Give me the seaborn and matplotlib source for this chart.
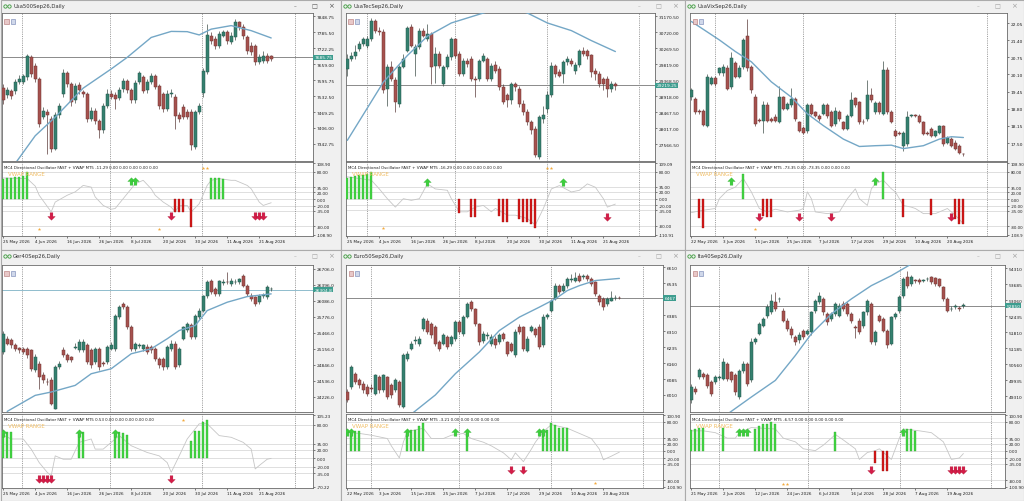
import matplotlib
matplotlib.use("Agg")
import matplotlib.pyplot as plt
import seaborn as sns
from matplotlib.patches import Rectangle
import matplotlib.transforms as mtrans

sns.set_theme(style="white")
plt.rcParams['font.family'] = ['DejaVu Sans']

# ---------------- DATA ----------------
US_DATES = ["25 May 2026", "4 Jun 2026", "16 Jun 2026", "26 Jun 2026", "8 Jul 2026",
            "20 Jul 2026", "30 Jul 2026", "11 Aug 2026", "21 Aug 2026"]
VIX_DATES = ["22 May 2026", "3 Jun 2026", "15 Jun 2026", "25 Jun 2026", "7 Jul 2026",
             "17 Jul 2026", "29 Jul 2026", "10 Aug 2026", "20 Aug 2026"]
ITA_DATES = ["21 May 2026", "2 Jun 2026", "12 Jun 2026", "24 Jun 2026", "6 Jul 2026",
             "16 Jul 2026", "28 Jul 2026", "7 Aug 2026", "19 Aug 2026"]
DATE_IDX = [0, 8, 16, 24, 32, 40, 48, 56, 64]

# --- Usa500 ---
P1_OPEN = [7564,7535,7551,7551,7588,7590,7607,7686,7653,7601,7450,7469,7440,7324,7456,7541,7624,7581,7515,7577,7548,7541,7443,7475,7432,7396,7493,7541,7535,7524,7561,7594,7555,7515,7588,7607,7555,7588,7614,7571,7541,7482,7541,7528,7456,7489,7469,7469,7330,7469,7545,7627,7772,7759,7730,7772,7785,7746,7765,7825,7805,7765,7733,7733,7667,7673,7693,7690]
P1_CLOSE = [7515,7555,7532,7588,7601,7611,7690,7620,7601,7423,7472,7456,7324,7456,7495,7624,7581,7508,7574,7555,7541,7443,7475,7432,7396,7495,7541,7528,7522,7555,7594,7555,7515,7585,7624,7551,7588,7614,7568,7495,7482,7541,7543,7453,7443,7449,7449,7337,7469,7495,7630,7775,7752,7730,7779,7785,7752,7769,7825,7805,7772,7713,7706,7667,7686,7693,7673,7680]
P1_HIGH = [7580,7570,7560,7600,7618,7622,7700,7695,7665,7610,7490,7480,7452,7470,7505,7640,7632,7590,7585,7590,7555,7550,7490,7485,7440,7505,7560,7556,7548,7570,7605,7602,7565,7595,7632,7615,7600,7625,7622,7580,7550,7555,7560,7540,7470,7500,7480,7480,7478,7505,7645,7820,7785,7770,7790,7795,7795,7785,7838,7832,7818,7775,7745,7740,7700,7710,7702,7695]
P1_LOW = [7500,7525,7520,7540,7580,7582,7598,7610,7590,7410,7440,7304,7310,7318,7445,7530,7570,7495,7505,7540,7530,7430,7432,7420,7368,7388,7485,7520,7480,7515,7550,7545,7505,7505,7580,7545,7545,7580,7560,7482,7470,7474,7530,7400,7430,7440,7440,7320,7322,7460,7530,7620,7740,7718,7722,7765,7740,7738,7755,7795,7760,7700,7695,7655,7660,7662,7662,7672]
P1_MA_IDX = [3,8,13,20,27,31,37,42,46,49,52,57,62,67]
P1_MA_VAL = [7265,7375,7449,7564,7640,7686,7765,7789,7788,7775,7798,7812,7792,7763]
P1_OSC_IDX = [0,6,8,9,12,13,16,18,20,22,23,25,27,28,30,32,33,35,37,38,40,42,43,44,46,47,49,51,52,54,57,58,61,62,64,65,67]
P1_OSC_VAL = [62,60,38,11,-38,-9,11,21,40,35,6,-19,-30,-28,1,30,45,55,30,11,-9,-24,-38,-19,-19,-38,-14,40,55,60,55,55,40,30,-9,-19,-11]
P1_HIST_IDX = [0,1,2,3,4,5,6,43,44,45,47,52,53,54,55]
P1_HIST_VAL = [58,61,63,65,66,68,79,-38,-38,-38,-83,62,62,61,60]
P1_UP_IDX, P1_UP_VAL = [32,33], [52,52]
P1_DN_IDX, P1_DN_VAL = [12,42,63,64,65], [-50,-50,-50,-50,-50]
P1_DOT_IDX, P1_DOT_VAL = [9,39,50,51], [-88,-88,92,92]
P1_YTICKS = [7848.75,7785.50,7722.25,7659.00,7595.75,7532.50,7469.25,7406.00,7342.75]
P1_YLABELS = ["7848.75","7785.50","7722.25","7659.00","7595.75","7532.50","7469.25","7406.00","7342.75"]

# --- UsaTec ---
P2_OPEN = [29688,29969,30063,30251,30392,30345,30532,31048,30767,30720,29125,29735,29360,28702,29735,30204,30861,30110,30298,30767,30532,30673,29782,30110,29266,29735,30016,30532,30110,29547,29922,29969,29406,29406,29922,29969,29406,29800,29687,29172,28937,28796,29266,29125,28702,28467,28186,27998,27200,28280,28561,28937,29781,29593,29547,29875,29922,29640,29800,30204,30204,30081,29640,29547,29406,29406,29125,29266]
P2_CLOSE = [29969,30063,30157,30392,30532,30532,31048,30767,30720,29078,29735,29406,28749,29735,29969,30832,30345,30298,30767,30626,30673,29735,30110,29782,29735,30016,30532,30063,29547,29922,29828,29406,29360,29922,30063,29406,29782,29640,29172,28749,28796,29266,29172,28702,28467,28186,27951,27248,28327,28374,28937,29781,29547,29500,29875,29969,29828,29800,30204,30110,30063,29593,29547,29266,29266,29125,29266,29200]
P2_HIGH = [30100,30150,30350,30480,30600,30620,31110,31090,30880,30800,29830,29900,29450,29800,30100,30900,30950,30380,30850,30830,30954,30720,30300,30200,29800,30100,30580,30560,30200,30000,30000,30050,29480,29980,30130,30020,29850,29900,29760,29250,29000,29320,29330,29200,28800,28550,28250,28080,28400,28650,29050,29880,29820,29680,29950,30040,29990,29880,30260,30300,30250,30120,29720,29620,29450,29500,29350,29330]
P2_LOW = [29500,29900,29980,30200,30330,30280,30480,30700,30650,29020,28650,29340,28467,28620,29700,30150,30300,29500,30250,30580,30480,29250,29280,29700,29200,29680,29950,30000,29500,29500,29750,29350,28890,29350,29870,29350,29350,29580,29100,28700,28600,28700,29050,28600,28380,28100,27850,27200,27150,28150,28450,28900,29450,29450,29300,29800,29760,29550,29750,30050,29980,29450,29380,29180,29100,28900,29030,29100]
P2_MA_IDX = [0,9,15,20,26,34,40,45,50,56,61,67]
P2_MA_VAL = [27670,29312,30063,30607,30983,31264,31450,31264,30983,30767,30485,30176]
P2_OSC_IDX = [0,6,8,10,12,14,16,18,20,22,25,26,28,30,32,34,36,37,40,42,45,47,49,50,51,53,56,58,60,62,64,65,67]
P2_OSC_VAL = [65,55,29,0,-25,0,-5,0,44,29,25,0,-39,-39,-25,-20,-39,-29,-49,-49,-59,-78,-29,0,29,39,20,25,44,34,0,-25,-16]
P2_HIST_IDX = [0,1,2,3,4,5,6,28,31,32,38,39,40,43,44,45,46,47]
P2_HIST_VAL = [61,64,67,69,71,74,80,-44,-55,-55,-50,-68,-68,-60,-68,-70,-75,-88]
P2_UP_IDX, P2_UP_VAL = [20,54], [51,51]
P2_DN_IDX, P2_DN_VAL = [65], [-54]
P2_DOT_IDX, P2_DOT_VAL = [9,50,51], [-88,91,91]
P2_YTICKS = [31170.50,30720.00,30269.50,29819.00,29368.50,28918.00,28467.50,28017.00,27566.50]
P2_YLABELS = ["31170.50","30720.00","30269.50","29819.00","29368.50","28918.00","28467.50","28017.00","27566.50"]

# --- UsaVix ---
P3_OPEN = [19.24,19.18,18.73,18.73,18.16,19.75,19.97,20.14,20.14,20.36,19.63,20.52,20.01,20.39,21.54,20.39,19.24,18.38,18.35,18.95,18.41,18.48,18.29,19.24,18.80,18.93,19.18,18.29,18.06,17.97,18.93,18.67,18.54,18.61,18.93,18.67,18.22,18.67,18.29,18.03,18.54,19.21,19.05,18.31,18.41,19.31,18.67,19.03,18.61,20.27,18.67,17.97,17.88,17.40,17.46,18.52,18.55,18.54,18.29,17.88,18.03,17.78,17.90,18.16,17.52,17.65,17.52,17.40,17.10]
P3_CLOSE = [19.50,18.67,18.67,18.19,20.01,19.97,19.75,20.33,20.39,19.56,20.71,20.01,20.33,21.41,20.33,19.50,18.22,18.33,18.95,18.35,18.35,18.35,19.24,18.80,18.99,19.18,18.41,17.97,17.90,18.93,18.61,18.54,18.41,18.93,18.54,18.16,18.73,18.41,18.03,18.54,19.12,18.93,18.29,18.28,19.31,19.12,19.03,18.67,20.27,18.67,18.29,17.78,17.85,17.90,18.48,18.55,18.53,18.29,17.84,17.86,17.78,17.97,18.16,17.46,17.71,17.40,17.27,17.14,17.07]
P3_HIGH = [19.60,19.25,18.80,18.80,20.10,20.05,20.05,20.40,20.50,20.45,20.95,20.60,20.45,21.50,22.22,20.45,19.35,18.45,19.10,19.05,18.50,18.60,19.65,19.30,19.05,19.60,19.25,18.35,18.15,19.00,19.00,18.72,18.62,19.00,19.00,18.75,18.85,18.75,18.35,18.60,19.45,19.25,19.10,18.40,19.90,19.60,19.10,19.10,20.61,20.40,18.75,18.05,17.95,17.95,18.70,18.62,18.60,18.60,18.35,17.95,18.10,18.00,18.20,18.20,17.78,17.72,17.60,17.45,17.12]
P3_LOW = [19.15,18.60,18.60,18.15,18.10,19.70,19.68,20.08,20.05,19.50,19.55,19.95,19.95,20.30,20.25,19.40,18.15,18.28,17.90,18.30,18.30,18.28,18.25,18.75,18.75,18.85,18.35,17.92,17.85,17.90,18.55,18.48,18.35,18.55,18.45,18.10,18.15,18.35,17.98,17.98,18.48,18.85,18.22,18.22,18.35,19.05,18.60,18.60,18.55,18.60,18.25,17.72,17.80,17.20,17.40,18.48,18.48,18.25,17.80,17.80,17.72,17.72,17.85,17.40,17.45,17.35,17.22,17.08,17.00]
P3_MA_IDX = [0,7,11,15,20,25,29,33,38,42,46,50,53,58,62,65,68]
P3_MA_VAL = [22.11,21.41,20.97,20.58,19.82,19.24,18.61,18.16,17.65,17.37,17.40,17.42,17.29,17.40,17.65,17.74,17.71]
P3_OSC_IDX = [0,3,6,7,9,11,13,15,17,19,21,24,27,28,29,30,31,34,37,39,41,42,44,45,46,48,50,51,53,55,56,58,61,62,64,66,68]
P3_OSC_VAL = [-40,-33,-28,1,25,35,60,21,-28,-38,-30,-38,-33,-28,21,1,-38,-43,-38,1,30,1,-19,30,45,55,30,21,-19,-24,-28,-43,-43,-38,-28,-48,-73]
P3_HIST_IDX = [2,3,13,18,19,20,48,53,60,66,67,68]
P3_HIST_VAL = [-55,-85,73,-50,-53,-53,80,-53,-46,-58,-73,-73]
P3_UP_IDX, P3_UP_VAL = [10,46], [52,52]
P3_DN_IDX, P3_DN_VAL = [17,27,35,65], [-53,-53,-53,-53]
P3_DOT_IDX, P3_DOT_VAL = [16], [-87]
P3_YTICKS = [22.05,21.40,20.75,20.10,19.45,18.80,18.15,17.50]
P3_YLABELS = ["22.05","21.40","20.75","20.10","19.45","18.80","18.15","17.50"]

# --- Ger40 ---
P4_OPEN = [25091,25349,25317,25220,25169,25156,25156,25124,24736,24865,24639,24520,24542,23993,24800,25124,25027,24994,25180,25124,25124,25220,25124,24897,25156,24870,24897,25156,25156,25769,26028,25963,25575,25156,25215,25156,25188,25188,25156,24962,24962,24800,25156,25253,24833,25349,25511,25608,25382,25770,25899,26189,26480,26319,26222,26440,26450,26416,26455,26448,26577,26383,26189,26157,26060,26185,26157,26315]
P4_CLOSE = [25446,25253,25220,25156,25124,25091,25027,24768,24994,24607,24542,24505,24090,24800,24865,25027,24929,24929,25195,25285,25285,24897,24833,25156,24800,24860,25188,25220,25802,25963,25963,25575,25156,25253,25225,25220,25091,25124,24962,24833,24800,25188,25253,24800,25156,25575,25640,25382,25802,25899,26189,26448,26254,26222,26480,26450,26445,26480,26462,26512,26383,26222,26125,26028,26189,26192,26351,26320]
P4_HIGH = [25500,25400,25360,25270,25200,25200,25200,25160,25050,24920,24700,24580,24600,24850,24920,25200,25080,25010,25260,25349,25349,25270,25180,25200,25190,24920,25220,25280,25830,26000,26060,26000,25610,25290,25270,25250,25240,25230,25190,25000,24990,25220,25320,25300,25200,25600,25680,25660,25830,25940,26210,26490,26520,26360,26500,26520,26654,26540,26520,26540,26610,26420,26230,26190,26220,26240,26400,26360]
P4_LOW = [25050,25220,25180,25110,25080,25050,24980,24720,24700,24380,24500,24460,24060,23980,24770,25000,24890,24890,25150,25090,25090,24860,24780,24860,24750,24820,24860,25130,25120,25740,25920,25540,25120,25120,25180,25120,25060,25080,24920,24780,24750,24760,25120,24770,24800,25320,25480,25350,25350,25740,25870,26150,26220,26190,26190,26400,26410,26380,26420,26420,26350,26190,26090,25990,26020,26150,26120,26280]
P4_MA_IDX = [1,8,12,18,22,27,32,37,41,44,48,51,56,61,67]
P4_MA_VAL = [23940,24251,24316,24445,24671,24768,25059,25156,25350,25511,25608,25898,26060,26170,26222]
P4_OSC_IDX = [0,2,5,7,9,11,12,13,15,17,19,22,23,25,27,29,32,36,39,41,42,44,46,48,49,51,54,57,60,62,63,64,66,67]
P4_OSC_VAL = [55,46,46,22,-10,-33,-41,6,-2,-2,38,46,22,22,38,54,30,14,6,-10,-33,6,46,70,82,82,54,50,38,22,-25,-17,-2,0]
P4_HIST_IDX = [0,1,2,19,20,28,29,30,31,47,48,49,50,51]
P4_HIST_VAL = [63,63,63,63,63,63,63,60,55,42,66,66,87,90]
P4_UP_IDX, P4_UP_VAL = [0,19,28], [60,60,60]
P4_DN_IDX, P4_DN_VAL = [9,10,11,12,42], [-49,-49,-49,-49,-49]
P4_DOT_IDX, P4_DOT_VAL = [45], [91]
P4_YTICKS = [26706.0,26396.0,26086.0,25776.0,25466.0,25156.0,24846.0,24536.0,24226.0]
P4_YLABELS = ["26706.0","26396.0","26086.0","25776.0","25466.0","25156.0","24846.0","24536.0","24226.0"]

# --- Euro50 ---
P5_OPEN = [6024,6048,6110,6079,6063,6048,6042,6016,6094,6032,6094,6055,6032,6071,5954,6180,6227,6264,6251,6321,6360,6344,6329,6258,6251,6282,6251,6274,6355,6297,6376,6446,6415,6344,6266,6288,6251,6274,6258,6297,6258,6251,6196,6329,6329,6219,6313,6321,6329,6243,6376,6407,6462,6524,6501,6524,6550,6548,6571,6565,6571,6555,6540,6477,6462,6438,6450,6465,6468]
P5_CLOSE = [5985,6141,6071,6055,6032,6016,6039,6102,6032,6102,6001,6008,6079,5962,6196,6204,6251,6268,6274,6368,6305,6290,6251,6227,6290,6235,6282,6355,6305,6376,6438,6415,6344,6258,6297,6292,6282,6243,6290,6274,6204,6219,6305,6305,6227,6274,6329,6290,6235,6376,6384,6454,6524,6493,6524,6555,6553,6559,6548,6568,6555,6532,6485,6446,6423,6462,6465,6467,6467]
P5_HIGH = [6040,6150,6120,6090,6075,6062,6060,6110,6105,6110,6100,6065,6090,6080,6205,6215,6262,6285,6285,6376,6370,6355,6340,6270,6300,6292,6290,6362,6362,6385,6446,6458,6420,6350,6310,6305,6295,6285,6300,6305,6265,6260,6320,6345,6335,6285,6340,6330,6345,6391,6395,6462,6535,6530,6535,6565,6580,6587,6582,6577,6580,6565,6548,6485,6470,6472,6501,6478,6475]
P5_LOW = [5975,6040,6060,6045,6020,6005,6025,6010,6020,6025,5990,5995,6025,5954,5950,6170,6220,6250,6240,6310,6296,6280,6240,6215,6245,6225,6240,6265,6295,6285,6370,6405,6335,6245,6255,6275,6240,6232,6250,6262,6195,6210,6190,6295,6215,6210,6305,6282,6225,6235,6368,6400,6455,6485,6495,6515,6540,6540,6540,6555,6545,6520,6475,6435,6410,6430,6450,6455,6460]
P5_MA_IDX = [16,22,27,33,38,43,48,52,55,58,62,65,68]
P5_MA_VAL = [5920,6010,6110,6212,6313,6376,6423,6462,6501,6524,6548,6553,6558]
P5_OSC_IDX = [0,3,6,10,11,13,14,15,19,21,24,26,29,31,34,36,39,41,42,44,46,47,49,51,55,58,61,63,64,66,68]
P5_OSC_VAL = [50,48,43,34,14,-19,24,53,62,34,34,43,48,34,24,14,-5,-24,-5,-29,5,24,53,72,62,48,34,5,-24,-14,-3]
P5_HIST_IDX = [1,2,3,15,16,17,18,19,30,49,50,51,52,53,54,55]
P5_HIST_VAL = [55,55,55,55,58,58,67,77,55,48,58,77,72,64,64,64]
P5_UP_IDX, P5_UP_VAL = [0,1,15,27,30,48,49], [52,52,52,52,52,52,52]
P5_DN_IDX, P5_DN_VAL = [41,44], [-53,-53]
P5_DOT_IDX, P5_DOT_VAL = [62], [-87]
P5_YTICKS = [6610,6535,6385,6310,6235,6160,6085,6010]
P5_YLABELS = ["6610","6535","6385","6310","6235","6160","6085","6010"]

# --- Ita40 ---
P6_OPEN = [49141,49597,50052,50183,50143,49857,49857,50030,49987,50573,50248,50117,49271,50274,50573,49922,51419,51745,52070,52460,52591,52982,53100,52656,52265,51940,51615,51485,51875,51745,51810,52656,52982,53112,52526,52330,52526,52461,52917,52917,52526,52020,52265,52070,52591,52917,51419,52460,52330,51875,51354,52395,52656,53242,53958,53698,53840,53867,53815,53880,53958,53919,53893,53568,53112,52710,52815,52760,52840]
P6_CLOSE = [49662,49467,50313,50052,49701,49402,50052,50065,50638,49987,49922,49467,50274,50573,49792,51419,51549,52135,52330,52786,53047,52721,53125,52265,51940,51680,51419,51680,51615,51875,52591,53047,53242,52591,52200,52526,52917,52852,52721,52526,52265,51990,51810,52591,53047,51419,51810,52265,51875,51289,52395,52526,53177,53893,53633,53958,53815,53763,53840,53905,53763,53698,53633,53112,52656,52730,52840,52735,52865]
P6_HIGH = [49800,49700,50420,50250,50200,49950,50150,50150,50780,50650,50300,50200,50350,50700,50650,51600,51620,52200,52400,52900,53300,53370,53200,52750,52350,52050,51700,51800,51950,51950,52650,53120,53398,53200,52600,52600,52980,52950,53050,52990,52600,52100,52350,52650,53120,52990,51900,52520,52400,51950,52450,52600,53250,53960,54218,54050,53900,53930,53900,53960,54020,53980,53950,53620,53180,52840,52900,52840,52950]
P6_LOW = [49050,49400,49980,49980,49640,49330,49800,49950,49920,49900,49850,49350,49200,50200,49700,49850,51350,51680,52000,52380,52520,52650,53000,52200,51860,51600,51300,51400,51550,51680,51700,52560,52900,52500,52100,52250,52450,52400,52650,52450,52180,51600,51720,51980,52500,51350,51300,52200,51800,51200,51300,52320,52580,53150,53550,53620,53750,53700,53760,53800,53700,53620,53560,53050,52600,52620,52700,52650,52760]
P6_MA_IDX = [9,15,21,26,30,35,40,45,50,55,60]
P6_MA_VAL = [48600,49271,49922,50898,51745,52526,53112,53633,54023,54480,54800]
P6_OSC_IDX = [0,3,6,9,11,12,15,21,23,26,28,31,33,35,36,38,41,42,44,46,47,50,52,53,57,60,63,65,67,68]
P6_OSC_VAL = [55,55,50,35,35,50,64,60,35,25,6,1,16,35,45,30,6,-23,-4,1,6,-23,35,60,55,50,25,-23,-19,-7]
P6_HIST_IDX = [0,1,2,3,8,16,17,18,19,20,21,36,46,48,49,54,55,56]
P6_HIST_VAL = [57,60,64,64,64,60,69,74,74,79,74,52,-33,-55,-55,60,60,55]
P6_UP_IDX, P6_UP_VAL = [12,13,14,53], [53,53,53,53]
P6_DN_IDX, P6_DN_VAL = [45,65,66,67,68], [-53,-53,-53,-53,-53]
P6_DOT_IDX, P6_DOT_VAL = [23,24], [-89,-89]
P6_YTICKS = [54310,53685,53060,52435,51810,51185,50560,49935,49310]
P6_YLABELS = ["54310","53685","53060","52435","51810","51185","50560","49935","49310"]

OSC_LEVELS = [80, 35, 20, 0, -20, -35, -80]

# ---------------- DRAWING ----------------
WPX, HPX = 1024, 502
fig = plt.figure(figsize=(WPX / 100, HPX / 100), dpi=100)
fig.patch.set_facecolor('#f0f0f0')

bg = fig.add_axes([0, 0, 1, 1])
bg.set_xlim(0, WPX)
bg.set_ylim(HPX, 0)
bg.axis('off')
bg.set_zorder(-5)


def fax(x, y, w, h):
    return fig.add_axes([x / WPX, 1 - (y + h) / HPX, w / WPX, h / HPX])


UP_ARROW = [(0, 1), (-1.0, 0.0), (-0.38, 0.0), (-0.38, -1), (0.38, -1), (0.38, 0.0), (1.0, 0.0), (0, 1)]
DN_ARROW = [(x, -y) for x, y in UP_ARROW]

BULL, BEAR = '#34806f', '#a6514e'
BULL_E, BEAR_E = '#25594e', '#6f3634'


def style_axes(ax):
    ax.set_facecolor('white')
    for s in ax.spines.values():
        s.set_color('#6a6a6a')
        s.set_linewidth(0.6)
        s.set_visible(True)


def draw_panel(p):
    ox, oy, ww, hh = p['win']
    bg.add_patch(Rectangle((ox + 0.5, oy + 0.5), ww - 1, hh - 1, fc='#f0f0f0', ec='#ababab', lw=0.8))
    bg.text(ox + 13, oy + 6.5, p['title'], fontsize=3.8, color='#303030', va='center', ha='left')
    bg.plot([ox + 5, ox + 8.5], [oy + 6.5, oy + 6.5], ls='none', marker='o', ms=2.4,
            mfc='none', mec='#3c9a3c', mew=0.6)
    cc = '#555555' if p['active'] else '#a0a0a0'
    bg.text(ox + ww - 46, oy + 6.5, '\u2013', fontsize=4, color=cc, va='center', ha='center')
    bg.text(ox + ww - 27, oy + 6.5, '\u25a1', fontsize=4.5, color=cc, va='center', ha='center')
    bg.text(ox + ww - 10, oy + 6.5, '\u00d7', fontsize=5, color=cc, va='center', ha='center')

    # ---- main chart ----
    mx, my, mw, mh = p['main']
    ax = fax(mx, my, mw, mh)
    style_axes(ax)
    o, h, l, c = p['open'], p['high'], p['low'], p['close']
    idx = list(range(len(o)))
    bull = [cc_ >= oo for oo, cc_ in zip(o, c)]
    ax.vlines(idx, l, h, colors=['#3f4f4a' if b else '#5a3b3a' for b in bull], lw=0.5, zorder=3)
    ax.bar(idx, [cc_ - oo for oo, cc_ in zip(o, c)], bottom=o, width=0.66,
           color=[BULL if b else BEAR for b in bull],
           edgecolor=[BULL_E if b else BEAR_E for b in bull], linewidth=0.35, zorder=4)
    sns.lineplot(x=p['ma_idx'], y=p['ma_val'], ax=ax, color='#74a7c6', linewidth=1.0,
                 estimator=None, legend=False, zorder=5)
    for sx in p['seps']:
        ax.axvline(sx, color='#7a7a7a', ls=(0, (1.6, 1.6)), lw=0.5, zorder=1)
    ax.set_xlim(*p['xlim'])
    ax.set_ylim(*p['ylim'])
    ax.set_xlabel('')
    ax.set_ylabel('')
    ax.set_xticks([])
    ax.yaxis.tick_right()
    ax.set_yticks(p['yticks'])
    ax.set_yticklabels(p['ylabels'])
    ax.tick_params(axis='y', direction='out', length=1.5, width=0.4, pad=1.2,
                   colors='#202020', labelsize=3.2)
    if p['price'] is not None:
        ax.axhline(p['price'], color=p['pline'], lw=0.7, zorder=2)
        tr = mtrans.blended_transform_factory(ax.transAxes, ax.transData)
        ax.text(1.004, p['price'], p['plabel'], transform=tr, fontsize=3.2, color='white',
                va='center', ha='left', clip_on=False, zorder=10,
                bbox=dict(boxstyle='square,pad=0.18', fc='#3e9d8f', ec='none'))
    ax.add_patch(Rectangle((0.008, 0.925), 0.014, 0.035, transform=ax.transAxes,
                           fc='#e8c8c8', ec='#b07070', lw=0.4, zorder=6))
    ax.add_patch(Rectangle((0.028, 0.925), 0.014, 0.035, transform=ax.transAxes,
                           fc='#d0d8ea', ec='#7080b0', lw=0.4, zorder=6))

    # ---- oscillator ----
    qx, qy, qw, qh = p['osc']
    ax2 = fax(qx, qy, qw, qh)
    style_axes(ax2)
    for lv in OSC_LEVELS:
        if p['oylim'][0] < lv < p['oylim'][1]:
            ax2.axhline(lv, color='#9a9a9a', ls=(0, (1.6, 1.6)), lw=0.45, zorder=1)
    for sx in p['seps']:
        ax2.axvline(sx, color='#7a7a7a', ls=(0, (1.6, 1.6)), lw=0.5, zorder=1)
    sns.lineplot(x=p['osc_idx'], y=p['osc_val'], ax=ax2, color='#c6c6c6', linewidth=0.6,
                 estimator=None, legend=False, zorder=2)
    ax2.bar(p['hist_idx'], p['hist_val'], width=0.5,
            color=['#44d644' if v > 0 else '#d41818' for v in p['hist_val']],
            edgecolor=['#2aa82a' if v > 0 else '#9c1010' for v in p['hist_val']],
            linewidth=0.25, zorder=3)
    ax2.plot(p['up_idx'], p['up_val'], ls='none', marker=UP_ARROW, ms=5.4,
             color='#3ccf3c', mec='#2fa82f', mew=0.2, zorder=5)
    ax2.plot(p['dn_idx'], p['dn_val'], ls='none', marker=DN_ARROW, ms=5.4,
             color='#d41c48', mec='#a8102f', mew=0.2, zorder=5)
    ax2.plot(p['dot_idx'], p['dot_val'], ls='none', marker='*', ms=2.6,
             color='#f2a93b', mew=0, zorder=5)
    ax2.text(0.006, 0.965, p['header'], transform=ax2.transAxes, fontsize=2.9,
             color='#1e1e1e', va='top', ha='left', zorder=6)
    ax2.text(0.018, 0.85, 'VWAP RANGE', transform=ax2.transAxes, fontsize=4.0,
             color='#f1bd62', va='center', ha='left', zorder=6)
    ax2.set_xlim(*p['xlim'])
    ax2.set_ylim(*p['oylim'])
    ax2.set_xlabel('')
    ax2.set_ylabel('')
    ax2.yaxis.tick_right()
    inner = [v for v in OSC_LEVELS if p['oylim'][0] < v < p['oylim'][1]]
    otk = [p['oylim'][1] - 3] + inner + [p['oylim'][0] + 3]
    olb = [p['otop']] + ['%.2f' % v for v in inner] + [p['obot']]
    ax2.set_yticks(otk)
    ax2.set_yticklabels(olb)
    ax2.tick_params(axis='y', direction='out', length=1.5, width=0.4, pad=1.0,
                    colors='#202020', labelsize=p.get('olsize', 3.0))
    ax2.set_xticks(DATE_IDX)
    ax2.set_xticklabels(p['dates'], ha='left')
    ax2.tick_params(axis='x', direction='out', length=1.5, width=0.4, pad=1.0,
                    colors='#202020', labelsize=3.0, bottom=True)


PANELS = [
    dict(win=(0, 0, 341, 251), title='Usa500Sep26,Daily', active=True,
         main=(2, 14, 311, 148), osc=(2, 163, 311, 74), xlim=(-0.3, 77.45), ylim=(7275, 7862),
         open=P1_OPEN, high=P1_HIGH, low=P1_LOW, close=P1_CLOSE, ma_idx=P1_MA_IDX, ma_val=P1_MA_VAL,
         seps=[4.75, 26.8, 49.8, 72.9], yticks=P1_YTICKS, ylabels=P1_YLABELS,
         price=7685.75, plabel='7685.75', pline='#8a8a8a',
         hist_idx=P1_HIST_IDX, hist_val=P1_HIST_VAL, osc_idx=P1_OSC_IDX, osc_val=P1_OSC_VAL,
         up_idx=P1_UP_IDX, up_val=P1_UP_VAL, dn_idx=P1_DN_IDX, dn_val=P1_DN_VAL,
         dot_idx=P1_DOT_IDX, dot_val=P1_DOT_VAL, oylim=(-108.9, 108.9), otop='108.90', obot='-108.90',
         header='MC4 Directional Oscillator FAST + VWAP MT5 -11.29 0.00 0.00 0.00 0.00 0.00',
         dates=US_DATES),
    dict(win=(340, 0, 345, 251), title='UsaTecSep26,Daily', active=False,
         main=(346, 14, 309, 148), osc=(346, 163, 309, 74), xlim=(-0.33, 76.9), ylim=(27088, 31264),
         open=P2_OPEN, high=P2_HIGH, low=P2_LOW, close=P2_CLOSE, ma_idx=P2_MA_IDX, ma_val=P2_MA_VAL,
         seps=[4.8, 26.9, 50.0, 73.0], yticks=P2_YTICKS, ylabels=P2_YLABELS,
         price=29219.25, plabel='29219.25', pline='#8a8a8a',
         hist_idx=P2_HIST_IDX, hist_val=P2_HIST_VAL, osc_idx=P2_OSC_IDX, osc_val=P2_OSC_VAL,
         up_idx=P2_UP_IDX, up_val=P2_UP_VAL, dn_idx=P2_DN_IDX, dn_val=P2_DN_VAL,
         dot_idx=P2_DOT_IDX, dot_val=P2_DOT_VAL, oylim=(-110.91, 109.09), otop='109.09', obot='-110.91',
         header='MC4 Directional Oscillator FAST + VWAP MT5 -16.29 0.00 0.00 0.00 0.00 0.00',
         dates=US_DATES),
    dict(win=(684, 0, 340, 251), title='UsaVixSep26,Daily', active=False,
         main=(690, 14, 317, 148), osc=(690, 163, 317, 74), xlim=(-0.33, 78.9), ylim=(16.82, 22.43),
         open=P3_OPEN, high=P3_HIGH, low=P3_LOW, close=P3_CLOSE, ma_idx=P3_MA_IDX, ma_val=P3_MA_VAL,
         seps=[5.9, 28.0, 51.0, 74.0], yticks=P3_YTICKS, ylabels=P3_YLABELS,
         price=None, plabel='', pline='#8a8a8a',
         hist_idx=P3_HIST_IDX, hist_val=P3_HIST_VAL, osc_idx=P3_OSC_IDX, osc_val=P3_OSC_VAL,
         up_idx=P3_UP_IDX, up_val=P3_UP_VAL, dn_idx=P3_DN_IDX, dn_val=P3_DN_VAL,
         dot_idx=P3_DOT_IDX, dot_val=P3_DOT_VAL, oylim=(-108.9, 108.9), otop='108.90', obot='-108.9',
         olsize=2.8,
         header='MC4 Directional Oscillator FAST + VWAP MT5 -73.35 0.00 -73.35 0.00 0.00 0.00',
         dates=VIX_DATES),
    dict(win=(0, 250, 341, 252), title='Ger40Sep26,Daily', active=False,
         main=(2, 266, 311, 147), osc=(2, 415, 311, 74), xlim=(-0.3, 77.45), ylim=(23928, 26783),
         open=P4_OPEN, high=P4_HIGH, low=P4_LOW, close=P4_CLOSE, ma_idx=P4_MA_IDX, ma_val=P4_MA_VAL,
         seps=[4.75, 26.8, 49.8, 72.9], yticks=P4_YTICKS, ylabels=P4_YLABELS,
         price=26304.8, plabel='26304.8', pline='#8fbccd',
         hist_idx=P4_HIST_IDX, hist_val=P4_HIST_VAL, osc_idx=P4_OSC_IDX, osc_val=P4_OSC_VAL,
         up_idx=P4_UP_IDX, up_val=P4_UP_VAL, dn_idx=P4_DN_IDX, dn_val=P4_DN_VAL,
         dot_idx=P4_DOT_IDX, dot_val=P4_DOT_VAL, oylim=(-70.22, 105.23), otop='105.23', obot='-70.22',
         header='MC4 Directional Oscillator FAST + VWAP MT5 0.53 0.00 0.00 0.00 0.00 0.00',
         dates=US_DATES),
    dict(win=(340, 250, 345, 252), title='Euro50Sep26,Daily', active=False,
         main=(346, 266, 317, 147), osc=(346, 415, 317, 74), xlim=(-0.33, 78.9), ylim=(5930, 6621),
         open=P5_OPEN, high=P5_HIGH, low=P5_LOW, close=P5_CLOSE, ma_idx=P5_MA_IDX, ma_val=P5_MA_VAL,
         seps=[5.9, 28.0, 51.0, 74.0], yticks=P5_YTICKS, ylabels=P5_YLABELS,
         price=6467, plabel='6467', pline='#8a8a8a',
         hist_idx=P5_HIST_IDX, hist_val=P5_HIST_VAL, osc_idx=P5_OSC_IDX, osc_val=P5_OSC_VAL,
         up_idx=P5_UP_IDX, up_val=P5_UP_VAL, dn_idx=P5_DN_IDX, dn_val=P5_DN_VAL,
         dot_idx=P5_DOT_IDX, dot_val=P5_DOT_VAL, oylim=(-100.9, 100.9), otop='100.90', obot='-100.90',
         header='MC4 Directional Oscillator FAST + VWAP MT5 -3.21 0.00 0.00 0.00 0.00 0.00',
         dates=VIX_DATES),
    dict(win=(684, 250, 340, 252), title='Ita40Sep26,Daily', active=False,
         main=(690, 266, 315, 147), osc=(690, 415, 315, 74), xlim=(-0.33, 78.4), ylim=(48685, 54440),
         open=P6_OPEN, high=P6_HIGH, low=P6_LOW, close=P6_CLOSE, ma_idx=P6_MA_IDX, ma_val=P6_MA_VAL,
         seps=[7.0, 29.2, 52.2, 75.0], yticks=P6_YTICKS, ylabels=P6_YLABELS,
         price=52850, plabel='52850', pline='#8a8a8a',
         hist_idx=P6_HIST_IDX, hist_val=P6_HIST_VAL, osc_idx=P6_OSC_IDX, osc_val=P6_OSC_VAL,
         up_idx=P6_UP_IDX, up_val=P6_UP_VAL, dn_idx=P6_DN_IDX, dn_val=P6_DN_VAL,
         dot_idx=P6_DOT_IDX, dot_val=P6_DOT_VAL, oylim=(-100.9, 100.9), otop='100.90', obot='-100.90',
         header='MC4 Directional Oscillator FAST + VWAP MT5 -6.57 0.00 0.00 0.00 0.00 0.00',
         dates=ITA_DATES),
]

for spec in PANELS:
    draw_panel(spec)

fig.savefig('out.png', dpi=100, facecolor=fig.get_facecolor())
